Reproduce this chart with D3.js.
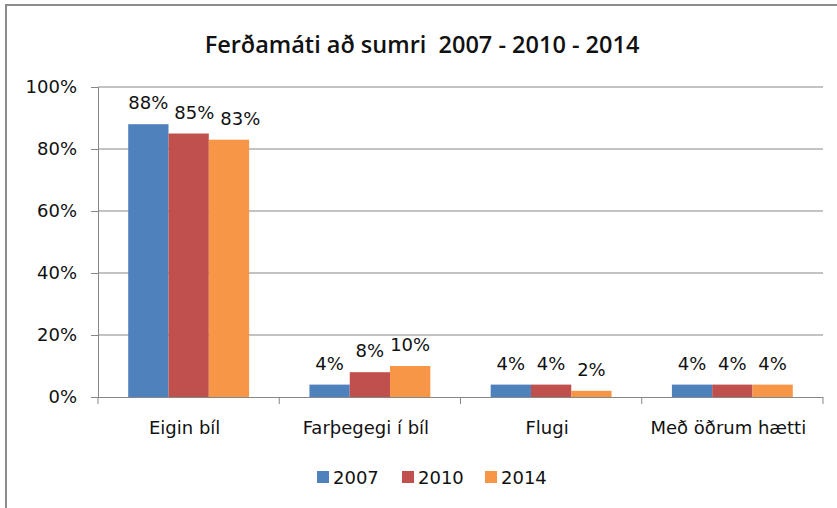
<!DOCTYPE html>
<html>
<head>
<meta charset="utf-8">
<script src="https://cdn.jsdelivr.net/npm/d3@7"></script>
<style>
  body { margin:0; background:#fff; }
  text { font-family:"DejaVu Sans", sans-serif; fill:#111; }
</style>
</head>
<body>
<div id="chart-area"></div>
<script>
const categories = ["Eigin bíl", "Farþegegi í bíl", "Flugi", "Með öðrum hætti"];
const years = ["2007", "2010", "2014"];
const values2007 = [0.88, 0.04, 0.04, 0.04];
const values2010 = [0.85, 0.08, 0.04, 0.04];
const values2014 = [0.83, 0.10, 0.02, 0.04];
const yTicks = [0, 0.2, 0.4, 0.6, 0.8, 1.0];
const colors = ['#4F81BD', '#C0504D', '#F79646'];

const W = 837, H = 508;
const margin = {top:87, right:14, bottom:111, left:98};
const width = W - margin.left - margin.right;
const height = H - margin.top - margin.bottom;

const series = [values2007, values2010, values2014];

var svg = d3.select("#chart-area").append("svg")
    .attr("width", W)
    .attr("height", H);

// outer frame
svg.append("rect")
   .attr("x", 6).attr("y", 5)
   .attr("width", 900).attr("height", 600)
   .attr("fill", "none")
   .attr("stroke", "#8c8c8c").attr("stroke-width", 2);

svg.append("text")
   .attr("x", 422).attr("y", 53)
   .attr("text-anchor", "middle")
   .style("font-family", "'Open Sans', sans-serif")
   .style("font-weight", 600)
   .style("font-size", "23.5px")
   .style("white-space", "pre")
   .text("Ferðamáti að sumri  2007 - 2010 - 2014");

var g = svg.append("g")
    .attr("transform", "translate(" + margin.left + "," + margin.top + ")");

var xScale = d3.scaleBand().domain(categories).range([0, width]).paddingInner(0.333).paddingOuter(0.1667);
var x1 = d3.scaleBand().domain(years).range([0, xScale.bandwidth()]);
var yScale = d3.scaleLinear().domain([0, 1]).range([height, 0]);

// gridlines
g.selectAll("line.grid")
 .data(yTicks.slice(1))
 .enter().append("line")
 .attr("class", "grid")
 .attr("x1", 0).attr("x2", width)
 .attr("y1", d => yScale(d)).attr("y2", d => yScale(d))
 .attr("stroke", "#878787").attr("stroke-width", 1);

// y axis
var yAxis = g.append("g")
  .call(d3.axisLeft(yScale).tickValues(yTicks).tickFormat(d3.format(".0%")).tickSize(7).tickPadding(14));
yAxis.select(".domain").attr("stroke", "#878787");
yAxis.selectAll(".tick line").attr("stroke", "#878787");
yAxis.selectAll("text").style("font-size", "18px").style("font-family", "DejaVu Sans").attr("fill", "#111");

// x axis with ticks at category boundaries
var step = width / categories.length;
g.append("line")
 .attr("x1", 0).attr("x2", width)
 .attr("y1", height + 0.5).attr("y2", height + 0.5)
 .attr("stroke", "#878787");
g.selectAll("line.xtick")
 .data(d3.range(categories.length + 1))
 .enter().append("line")
 .attr("x1", d => d * step).attr("x2", d => d * step)
 .attr("y1", height).attr("y2", height + 7)
 .attr("stroke", "#878787");

g.selectAll("text.cat")
 .data(categories)
 .enter().append("text")
 .attr("class", "cat")
 .attr("x", d => xScale(d) + xScale.bandwidth() / 2 - 4)
 .attr("y", height + 37)
 .attr("text-anchor", "middle")
 .style("font-size", "18px")
 .text(d => d);

// bars
categories.forEach(function(cat, ci) {
  var grp = g.append("g").attr("transform", "translate(" + xScale(cat) + ",0)");
  var lastRight = -Infinity;
  years.forEach(function(yr, si) {
    var v = series[si][ci];
    grp.append("rect")
       .attr("x", x1(yr))
       .attr("y", yScale(v))
       .attr("width", x1.bandwidth())
       .attr("height", height - yScale(v))
       .attr("fill", colors[si]);
    var t = grp.append("text")
       .attr("x", x1(yr) + x1.bandwidth() / 2)
       .attr("y", yScale(v) - 15)
       .attr("text-anchor", "middle")
       .style("font-size", "18px")
       .text(d3.format(".0%")(v));
    var w = t.node().getComputedTextLength();
    var cx = x1(yr) + x1.bandwidth() / 2;
    if (cx - w / 2 < lastRight + 6) {
      cx = lastRight + 6 + w / 2;
      t.attr("x", cx);
    }
    lastRight = cx + w / 2;
  });
});

// legend
var legendX = [317, 402, 485];
var leg = svg.selectAll("g.leg")
  .data(years)
  .enter().append("g")
  .attr("class", "leg")
  .attr("transform", (d, i) => "translate(" + legendX[i] + ",471)");
leg.append("rect")
   .attr("width", 12).attr("height", 12)
   .attr("fill", (d, i) => colors[i]);
leg.append("text")
   .attr("x", 16).attr("y", 13)
   .style("font-size", "18px")
   .text(d => d);
</script>
</body>
</html>
